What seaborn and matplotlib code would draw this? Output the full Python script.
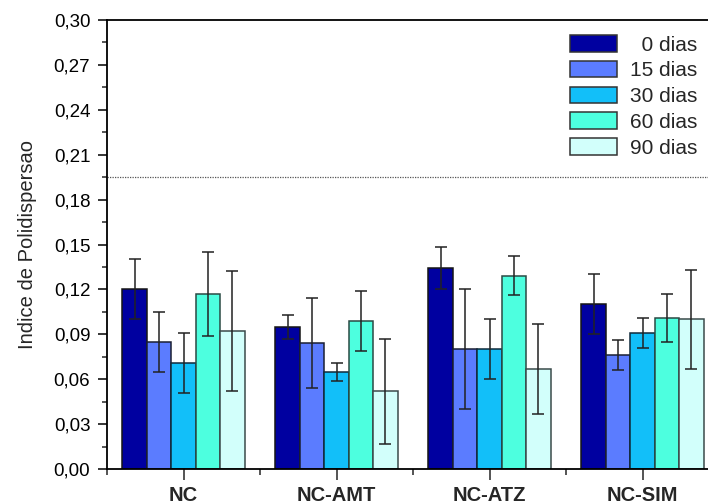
import matplotlib
matplotlib.use("Agg")
import matplotlib.pyplot as plt
from matplotlib.ticker import MultipleLocator, FixedLocator, FuncFormatter
import seaborn as sns
import pandas as pd

grupos = ["NC", "NC-AMT", "NC-ATZ", "NC-SIM"]
tempos = ["0 dias", "15 dias", "30 dias", "60 dias", "90 dias"]
legend_labels = ["  0 dias", "15 dias", "30 dias", "60 dias", "90 dias"]

# mean values per time, in group order
v0 = [0.120, 0.095, 0.134, 0.110]
v15 = [0.085, 0.084, 0.080, 0.076]
v30 = [0.071, 0.065, 0.080, 0.091]
v60 = [0.117, 0.099, 0.129, 0.101]
v90 = [0.092, 0.052, 0.067, 0.100]
# error (+/-) per time
e0 = [0.020, 0.008, 0.014, 0.020]
e15 = [0.020, 0.030, 0.040, 0.010]
e30 = [0.020, 0.006, 0.020, 0.010]
e60 = [0.028, 0.020, 0.013, 0.016]
e90 = [0.040, 0.035, 0.030, 0.033]

limite = 0.195

cores = ["#0000A0", "#5B7CFF", "#12BFF9", "#4DFFDF", "#D2FFFB"]
bordas = ["#151515", "#1a1f33", "#102a3a", "#2a4a44", "#3a4a4a"]

valores = [v0, v15, v30, v60, v90]
erros = [e0, e15, e30, e60, e90]
rows = []
for t, vals in zip(tempos, valores):
    for g, v in zip(grupos, vals):
        rows.append({"grupo": g, "tempo": t, "valor": v})
df = pd.DataFrame(rows)

sns.set_style("ticks")
plt.rcParams["font.family"] = ["Liberation Sans", "DejaVu Sans"]

fig = plt.figure(figsize=(7.08, 5.04), dpi=100)
ax = fig.add_axes([107 / 708, 35 / 504, 612 / 708, 449 / 504])

sns.barplot(data=df, x="grupo", y="valor", hue="tempo", order=grupos,
            hue_order=tempos, palette=cores, errorbar=None, width=0.8,
            linewidth=1.1, edgecolor="#151515", saturation=1, ax=ax,
            legend=True)

for cont, err, ec in zip(ax.containers, erros, bordas):
    xs = []
    ys = []
    for p in cont.patches:
        p.set_edgecolor(ec)
        xs.append(p.get_x() + p.get_width() / 2)
        ys.append(p.get_height())
    ax.errorbar(xs, ys, yerr=err, fmt="none", ecolor="#222222",
                elinewidth=1.1, capsize=4, capthick=1.1, zorder=5)

ax.axhline(limite, color="#555555", linestyle=(0, (1, 1)), linewidth=0.9,
           zorder=1)

ax.set_xlim(-0.5, 3.5)
ax.set_ylim(0, 0.30)
ax.yaxis.set_major_locator(MultipleLocator(0.03))
ax.yaxis.set_minor_locator(MultipleLocator(0.015))
ax.yaxis.set_major_formatter(FuncFormatter(lambda v, p: f"{v:.2f}".replace(".", ",")))
ax.xaxis.set_minor_locator(FixedLocator([-0.5, 0.5, 1.5, 2.5]))

ax.tick_params(axis="y", which="major", direction="out", length=6.5, width=1.1,
               labelsize=13.5, pad=5.5, colors="black")
ax.tick_params(axis="y", which="minor", direction="out", length=3.5, width=1.1)
ax.tick_params(axis="x", which="major", direction="out", length=8, width=1.1,
               labelsize=14.5, pad=4)
ax.tick_params(axis="x", which="minor", direction="out", length=4, width=1.1)
for lab in ax.get_xticklabels():
    lab.set_fontweight("bold")

ax.set_xlabel("")
ax.set_ylabel("Indice de Polidispersao", fontsize=14.5, labelpad=12)

for s in ["left", "bottom", "top"]:
    ax.spines[s].set_visible(True)
    ax.spines[s].set_linewidth(1.3)
    ax.spines[s].set_color("black")
ax.spines["right"].set_visible(False)

handles, _ = ax.get_legend_handles_labels()
for h in handles:
    h.set_edgecolor("#333333")
    h.set_linewidth(1.1)
ax.legend(handles, legend_labels, loc="upper right",
          bbox_to_anchor=(697 / 708, 1 - 35 / 504), bbox_transform=fig.transFigure,
          frameon=False, fontsize=15, handlelength=2.25, handleheight=0.85,
          handletextpad=0.6, labelspacing=0.3, borderpad=0, borderaxespad=0)

fig.savefig("out.png", dpi=100)
